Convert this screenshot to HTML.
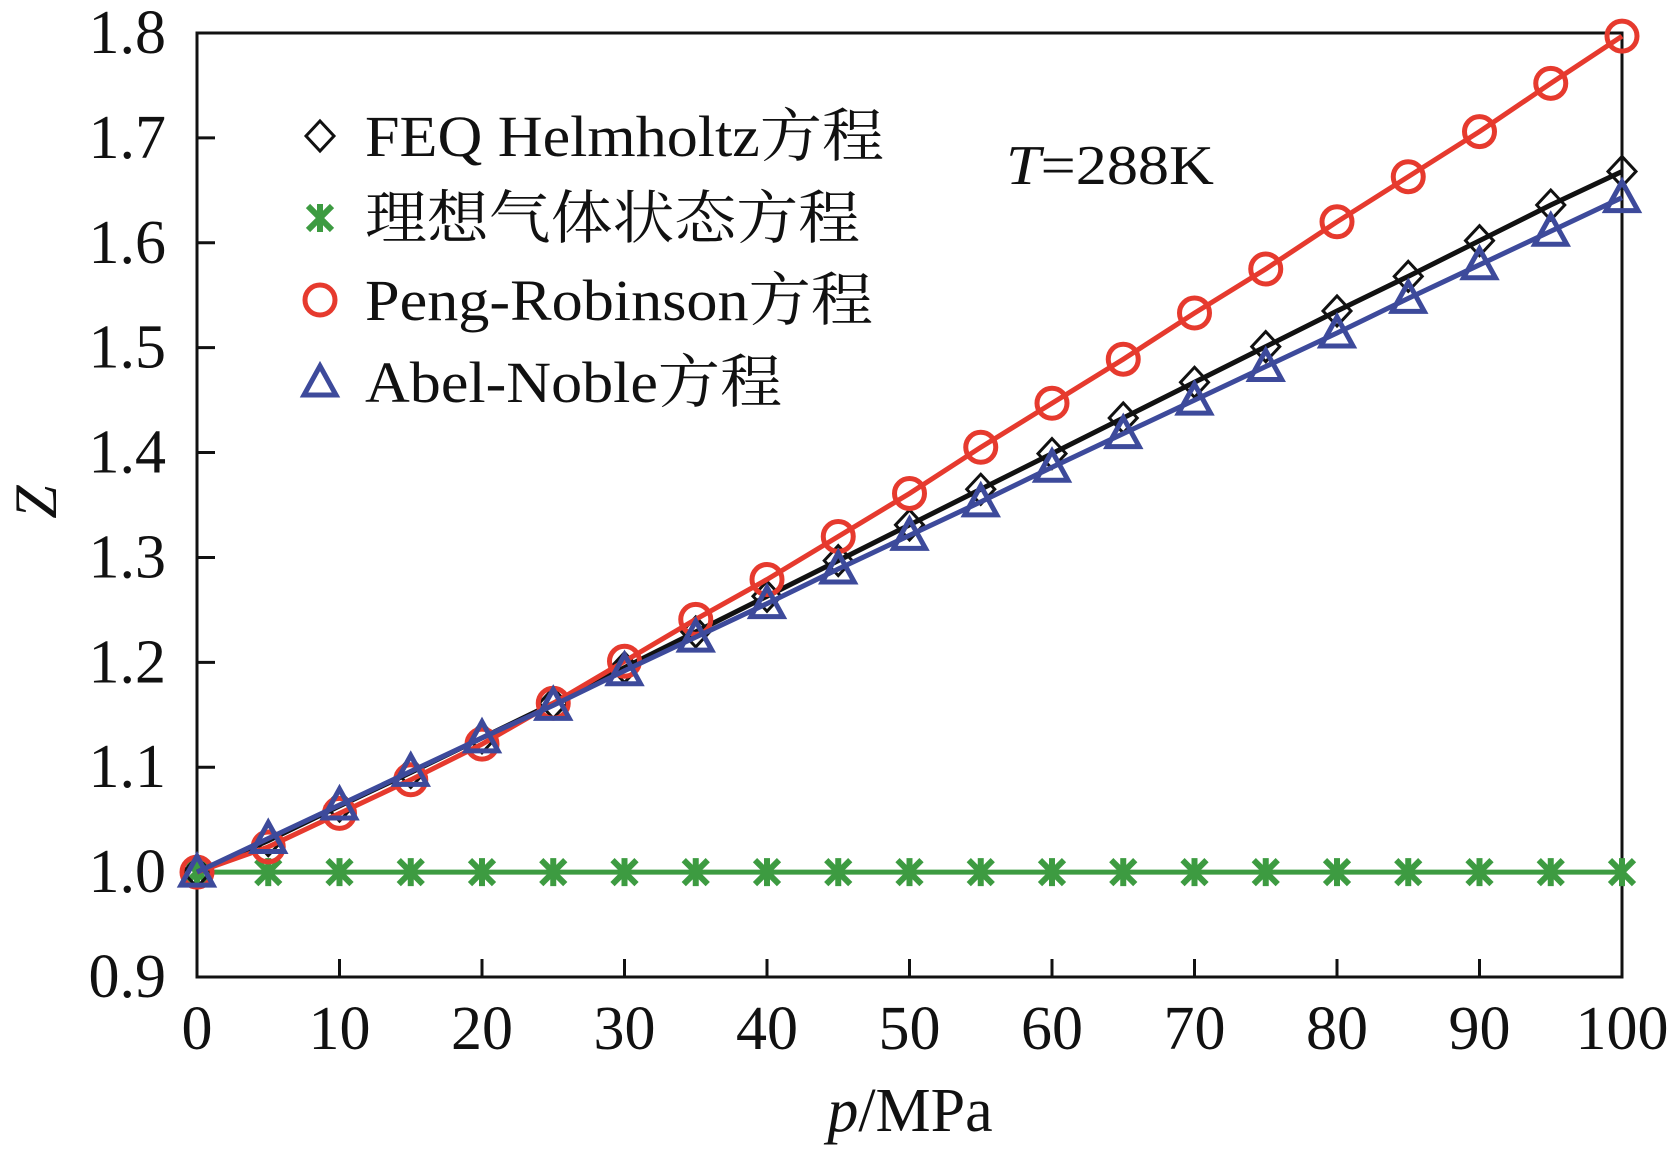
<!DOCTYPE html>
<html><head><meta charset="utf-8"><style>
html,body{margin:0;padding:0;background:#fff}
svg text{font-family:"Liberation Serif","Noto Serif CJK SC",serif;fill:#111}
</style></head><body>
<svg id="chart" width="1670" height="1149" viewBox="0 0 1670 1149" xmlns="http://www.w3.org/2000/svg">
<g id="plot"></g>
</svg>
<script>
const pressures=[0,5,10,15,20,25,30,35,40,45,50,55,60,65,70,75,80,85,90,95,100];
const feqValues=[1.0,1.03,1.063,1.095,1.128,1.161,1.195,1.229,1.263,1.297,1.331,1.365,1.399,1.433,1.467,1.501,1.535,1.568,1.602,1.636,1.668];
const idealValues=[1,1,1,1,1,1,1,1,1,1,1,1,1,1,1,1,1,1,1,1,1];
const prValues=[1.0,1.024,1.056,1.088,1.122,1.161,1.201,1.241,1.279,1.32,1.361,1.405,1.447,1.489,1.533,1.575,1.62,1.663,1.706,1.752,1.797];
const anValues=[1.0,1.032,1.064,1.096,1.128,1.159,1.192,1.224,1.256,1.289,1.321,1.353,1.386,1.418,1.45,1.482,1.514,1.547,1.579,1.611,1.643];
const xTicks=[0,10,20,30,40,50,60,70,80,90,100];
const yTicks=[0.9,1.0,1.1,1.2,1.3,1.4,1.5,1.6,1.7,1.8];

const L=197,R=1622,T=33,B=977;
const xS=v=>L+(v-0)/100*(R-L);
const yS=v=>B-(v-0.9)/0.9*(B-T);
const NS='http://www.w3.org/2000/svg';
const g=document.getElementById('plot');
function el(tag,attrs,parent){const e=document.createElementNS(NS,tag);for(const k in attrs)e.setAttribute(k,attrs[k]);(parent||g).appendChild(e);return e;}

const frame=el('rect',{x:L,y:T,width:R-L,height:B-T,fill:'none',stroke:'#111','stroke-width':3});



xTicks.forEach(v=>{
  const t=el('line',{x1:xS(v),x2:xS(v),y1:B,y2:B-18,stroke:'#111','stroke-width':3});
  
  
  const lb=el('text',{x:xS(v),y:1049,'text-anchor':'middle','font-size':62});
  lb.textContent=v;
  
  
});
yTicks.forEach(v=>{
  const t=el('line',{x1:L,x2:L+18,y1:yS(v),y2:yS(v),stroke:'#111','stroke-width':3});
  
  
  const lb=el('text',{x:166,y:yS(v)+20,'text-anchor':'end','font-size':62});
  lb.textContent=v.toFixed(1);
  
  
});

function marker(type,x,y,color,parent){
  let m;
  if(type==='diamond'){m=el('path',{d:`M${x} ${y-15}L${x+14} ${y}L${x} ${y+15}L${x-14} ${y}Z`,fill:'none',stroke:color,'stroke-width':3},parent);}
  else if(type==='circle'){m=el('circle',{cx:x,cy:y,r:15,fill:'none',stroke:color,'stroke-width':5},parent);}
  else if(type==='tri'){m=el('path',{d:`M${x} ${y-16}L${x+16} ${y+13}L${x-16} ${y+13}Z`,fill:'none',stroke:color,'stroke-width':5,'stroke-linejoin':'miter'},parent);}
  else {m=el('path',{d:`M${x-12} ${y-12}L${x+12} ${y+12}M${x+12} ${y-12}L${x-12} ${y+12}M${x} ${y-14}L${x} ${y+14}`,fill:'none',stroke:color,'stroke-width':6},parent);}
  return m;
}
function series(name,vals,color,type,lw){
  const sg=el('g',{});
  
  
  const pts=pressures.map((p,i)=>xS(p)+','+yS(vals[i])).join(' ');
  const ln=el('polyline',{points:pts,fill:'none',stroke:color,'stroke-width':lw},sg);
  
  
  pressures.forEach((p,i)=>{
    const m=marker(type,xS(p),yS(vals[i]),color,sg);
    
    
  });
}
series('ideal-gas',idealValues,'#3d9b41','star',5);
series('feq-helmholtz',feqValues,'#111','diamond',5);
series('peng-robinson',prValues,'#e63a2e','circle',5);
series('abel-noble',anValues,'#3d4a9b','tri',5);

const legend=[['diamond','#111','FEQ Helmholtz方程',519],['star','#3d9b41','理想气体状态方程',495],['circle','#e63a2e','Peng-Robinson方程',508],['tri','#3d4a9b','Abel-Noble方程',417]];
const lg=el('g',{});


legend.forEach((d,i)=>{
  const y=136+i*82;
  const m=marker(d[0],320,y,d[1],lg);
  
  
  const t=el('text',{x:365,y:y+20,'font-size':58,textLength:d[3],lengthAdjust:'spacingAndGlyphs'},lg);
  t.textContent=d[2];
  
  
});
</script>
<svg style="position:absolute;left:0;top:0" width="1670" height="1149">
<text x="1006" y="184" font-size="56" textLength="208" lengthAdjust="spacingAndGlyphs" style="font-family:'Liberation Serif',serif"><tspan font-style="italic">T</tspan>=288K</text>
<text x="910" y="1131" font-size="62" text-anchor="middle" style="font-family:'Liberation Serif',serif"><tspan font-style="italic">p</tspan>/MPa</text>
<text x="0" y="0" font-size="60" font-style="italic" text-anchor="middle" transform="translate(56,502) rotate(-90)" style="font-family:'Liberation Serif',serif">Z</text>
</svg>
</body></html>
